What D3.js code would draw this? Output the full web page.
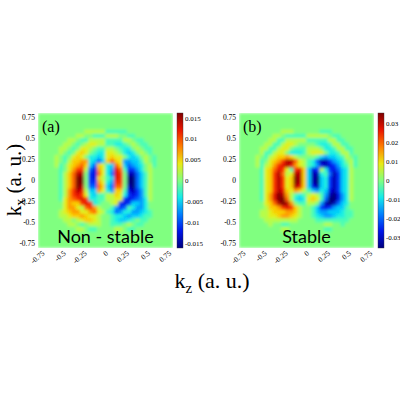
<!DOCTYPE html>
<html><head><meta charset="utf-8">
<script src="https://cdn.jsdelivr.net/npm/d3@7"></script>
<style>body{margin:0;background:#fff} text{fill:#000}</style>
</head><body><svg id="chart" width="400" height="400"></svg>
<script>
// left half of each map (kz < 0), normalised -9..9; right half is antisymmetric
var kzCells = [-0.575,-0.525,-0.475,-0.425,-0.375,-0.325,-0.275,-0.225,-0.175,-0.125,-0.075,-0.025];
var kxCells = [0.575,0.525,0.475,0.425,0.375,0.325,0.275,0.225,0.175,0.125,0.075,0.025,
  -0.025,-0.075,-0.125,-0.175,-0.225,-0.275,-0.325,-0.375,-0.425,-0.475,-0.525,-0.575];
var mapA = [
  [0,0,0,0,0,0,0,1,1,1,1,1],
  [0,0,0,0,0,1,1,0,0,-1,-1,-1],
  [0,0,0,1,1,0,-1,-1,1,1,1,1],
  [0,0,1,1,0,-1,0,1,2,2,1,1],
  [0,1,1,0,-1,0,2,2,1,0,-1,-1],
  [0,1,0,-1,0,2,3,2,0,-1,-2,-2],
  [1,0,-1,0,2,3,2,0,-2,-2,-3,-2],
  [1,0,-1,1,3,3,4,4,-2,-3,-5,-3],
  [1,-1,0,2,3,4,5,3,-3,-5,3,2],
  [0,-1,0,2,4,6,6,1,-5,-7,4,2],
  [0,-1,1,3,5,8,8,0,-6,-7,5,2],
  [0,-1,1,3,5,9,9,0,-6,-7,3,1],
  [0,-1,1,3,5,9,9,0,-6,-6,4,2],
  [0,-1,1,3,5,9,8,0,-5,-5,5,3],
  [0,-1,1,4,6,8,7,1,-3,-3,4,2],
  [0,-1,1,4,6,7,6,2,-2,-3,-1,-1],
  [0,-1,2,4,5,6,7,6,-2,-2,-1,-1],
  [0,0,2,4,3,3,6,7,6,-2,-1,0],
  [0,0,2,4,4,2,1,5,6,4,1,0],
  [0,1,2,3,4,4,2,2,4,5,2,1],
  [0,1,1,2,3,3,4,3,2,2,1,0],
  [0,0,1,1,0,1,2,3,3,2,1,0],
  [0,0,0,1,1,0,-1,0,1,1,1,0],
  [0,0,0,0,0,1,1,0,-1,-1,0,0]
];
var mapB = [
  [0,0,0,0,0,0,1,1,1,0,0,0],
  [0,0,0,0,1,1,0,-1,-1,-1,-1,-1],
  [0,0,0,1,1,-1,-1,1,1,1,1,1],
  [0,0,1,1,-1,-1,1,2,2,1,0,0],
  [0,1,1,-1,-1,1,2,2,0,-1,-1,-1],
  [0,1,-1,-1,1,2,2,0,-2,-2,-2,-1],
  [1,0,-1,1,2,3,3,4,3,1,0,0],
  [1,-1,0,2,3,4,6,8,8,5,2,1],
  [1,-1,1,2,4,6,7,8,7,4,2,1],
  [0,-1,2,3,5,7,6,2,-1,6,7,3],
  [0,-1,2,3,6,8,5,1,2,8,8,3],
  [0,-1,2,3,6,8,6,2,3,9,8,3],
  [0,-1,2,3,6,8,6,2,3,9,8,3],
  [0,-1,2,3,6,8,6,2,3,8,7,3],
  [0,-1,2,3,6,8,7,3,2,4,3,1],
  [0,-1,2,4,7,9,8,4,1,-1,-2,-1],
  [0,-1,2,4,7,9,9,5,1,-2,-3,-2],
  [0,0,2,3,5,8,9,8,4,0,-1,-1],
  [0,0,1,3,3,4,6,7,6,3,1,0],
  [0,1,1,2,3,3,3,4,4,3,1,0],
  [0,1,1,2,2,3,4,4,3,2,1,0],
  [0,0,1,1,1,1,1,1,1,1,0,0],
  [0,0,0,1,0,0,-1,-1,0,0,0,0],
  [0,0,0,0,0,0,1,1,0,0,0,0]
];
var axisTicks = [-0.75,-0.5,-0.25,0,0.25,0.5,0.75];
var barTicksA = [-0.015,-0.01,-0.005,0,0.005,0.01,0.015];
var barTicksB = [-0.03,-0.02,-0.01,0,0.01,0.02,0.03];

var svg = d3.select("#chart");
var jet = d3.interpolateRgbBasis(["#00007f","#0000ff","#0080ff","#00ffff","#80ff80","#ffff00","#ff8000","#ff0000","#7f0000"]);
var serif = "Liberation Serif";

var defs = svg.append("defs");
defs.append("filter").attr("id","blur").attr("x",0).attr("y",0).attr("width",1).attr("height",1)
  .append("feGaussianBlur").attr("stdDeviation",1.5);

function panel(left, grid, vmax, barTicks, label, name, id) {
  var top = 113, size = 135;
  var x = d3.scaleLinear().domain([-0.8,0.8]).range([left, left + size]);
  var y = d3.scaleLinear().domain([-0.8,0.8]).range([top + size, top]);
  var color = function(v) { return jet((v + 1) / 2); };
  var cell = x(0.05) - x(0);

  var cells = [];
  grid.forEach(function(row, i) {
    row.forEach(function(v, j) {
      cells.push({kz: kzCells[j], kx: kxCells[i], v: v / 9});
      cells.push({kz: -kzCells[j], kx: kxCells[i], v: -v / 9});
    });
  });
  defs.append("clipPath").attr("id","clip" + id).append("rect")
    .attr("x", left).attr("y", top).attr("width", size).attr("height", size);
  var g = svg.append("g").attr("clip-path","url(#clip" + id + ")");
  var inner = g.append("g").attr("filter","url(#blur)");
  inner.append("rect").attr("x", left).attr("y", top).attr("width", size).attr("height", size)
    .attr("fill", color(0));
  inner.selectAll("rect.c").data(cells).enter().append("rect").attr("class","c")
    .attr("x", function(d) { return x(d.kz) - cell / 2 - 0.3; })
    .attr("y", function(d) { return y(d.kx) - cell / 2 - 0.3; })
    .attr("width", cell + 0.6).attr("height", cell + 0.6)
    .attr("fill", function(d) { return color(d.v); });

  // y axis labels
  svg.append("g").selectAll("text").data(axisTicks).enter().append("text")
    .attr("x", left - 3).attr("y", function(d) { return y(d) + 2.5; })
    .attr("text-anchor","end").attr("font-family", serif).attr("font-size", 7.5)
    .text(function(d) { return d; });
  // x axis labels, rotated
  svg.append("g").selectAll("text").data(axisTicks).enter().append("text")
    .attr("transform", function(d) { return "translate(" + (x(d) + 3) + "," + (top + size + 6) + ") rotate(-40)"; })
    .attr("text-anchor","end").attr("font-family", serif).attr("font-size", 7.5)
    .text(function(d) { return d; });

  // colorbar
  var cb = d3.scaleLinear().domain([-vmax, vmax]).range([top + size, top]);
  var grad = defs.append("linearGradient").attr("id","grad" + id)
    .attr("x1",0).attr("y1",1).attr("x2",0).attr("y2",0);
  d3.range(0, 1.001, 0.125).forEach(function(t) {
    grad.append("stop").attr("offset", t).attr("stop-color", jet(t));
  });
  var bx = left + size + 4;
  svg.append("rect").attr("x", bx).attr("y", top).attr("width", 6).attr("height", size)
    .attr("fill","url(#grad" + id + ")").attr("stroke","#333").attr("stroke-width",0.4);
  svg.append("g").selectAll("text").data(barTicks).enter().append("text")
    .attr("x", bx + 8).attr("y", function(d) { return cb(d) + 2.5; })
    .attr("font-family", serif).attr("font-size", 7)
    .text(function(d) { return d; });

  svg.append("text").attr("x", left + 4).attr("y", top + 19).attr("font-family", serif)
    .attr("font-size", 16).text(label);
  svg.append("text").attr("x", left + size / 2).attr("y", top + size - 5).attr("text-anchor","middle")
    .attr("font-family","Lato").attr("font-size", 18).text(name);
}

panel(38, mapA, 0.0162, barTicksA, "(a)", "Non - stable", "a");
panel(239, mapB, 0.0355, barTicksB, "(b)", "Stable", "b");

var kx = svg.append("text").attr("transform","translate(21,180) rotate(-90)")
  .attr("text-anchor","middle").attr("font-family", serif).attr("font-size", 21);
kx.append("tspan").text("k");
kx.append("tspan").attr("font-size", 14).attr("dy", 4).text("x");
kx.append("tspan").attr("dy", -4).text(" (a. u.)");

var kz = svg.append("text").attr("x", 212).attr("y", 288)
  .attr("text-anchor","middle").attr("font-family", serif).attr("font-size", 22);
kz.append("tspan").text("k");
kz.append("tspan").attr("font-size", 15).attr("dy", 5).text("z");
kz.append("tspan").attr("dy", -5).text(" (a. u.)");
</script></body></html>
